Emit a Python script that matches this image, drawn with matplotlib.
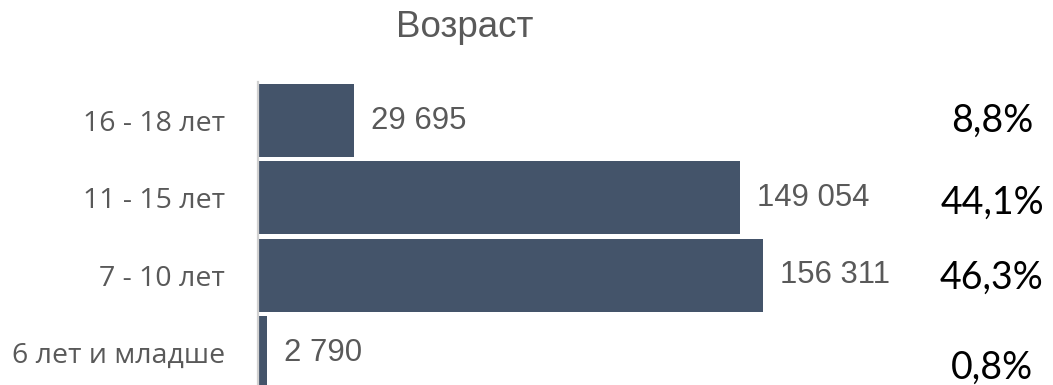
import numpy as np
import matplotlib.pyplot as plt
import matplotlib.transforms as mtransforms

# age groups, top to bottom
groups = ['16 - 18 лет', '11 - 15 лет', '7 - 10 лет', '6 лет и младше']
counts = [29695, 149054, 156311, 2790]

shares = [c / sum(counts) * 100 for c in counts]
# small vertical nudges for the share labels (in bar units)
share_nudge = [0.0, 0.06, 0.03, 0.2]

bar_color = '#44546A'
text_gray = '#595959'


def fmt_thousands(v):
    return f'{v:,}'.replace(',', ' ')


fig = plt.figure(figsize=(10.53, 3.85), dpi=100)
ax = fig.add_axes([258 / 1053, -0.016, 640 / 1053, 0.803])

ypos = np.arange(len(groups))
ax.barh(ypos, counts, height=0.944, color=bar_color, zorder=2)
ax.set_ylim(len(groups) - 0.5, -0.5)
ax.set_xlim(0, 156311 * 640 / 505)

ax.set_yticks(ypos)
ax.set_yticklabels(groups, fontfamily='Open Sans', fontsize=20.5, color=text_gray)
ax.tick_params(axis='y', length=0, pad=24)
ax.set_xticks([])

for side in ['top', 'right', 'bottom']:
    ax.spines[side].set_visible(False)
ax.spines['left'].set_color('#D0D0D0')
ax.spines['left'].set_linewidth(1.6)

# value labels next to bars
for y, c in zip(ypos, counts):
    ax.annotate(fmt_thousands(c), xy=(c, y), xytext=(17, 0), textcoords='offset pixels',
                va='center', ha='left', fontfamily='Liberation Sans', fontsize=22.4,
                color=text_gray)

# share of each group on the right
trans = mtransforms.blended_transform_factory(fig.transFigure, ax.transData)
for y, s, dy in zip(ypos, shares, share_nudge):
    ax.text(992 / 1053, y + dy, f'{s:.1f}%'.replace('.', ','), transform=trans,
            ha='center', va='center', fontfamily='Lato', fontsize=27, color='black',
            clip_on=False)

fig.text(465 / 1053, 1 - 37 / 385, 'Возраст', ha='center', va='baseline',
         fontfamily='Liberation Sans', fontsize=26.5, color=text_gray)

fig.savefig('out.png', dpi=100)
